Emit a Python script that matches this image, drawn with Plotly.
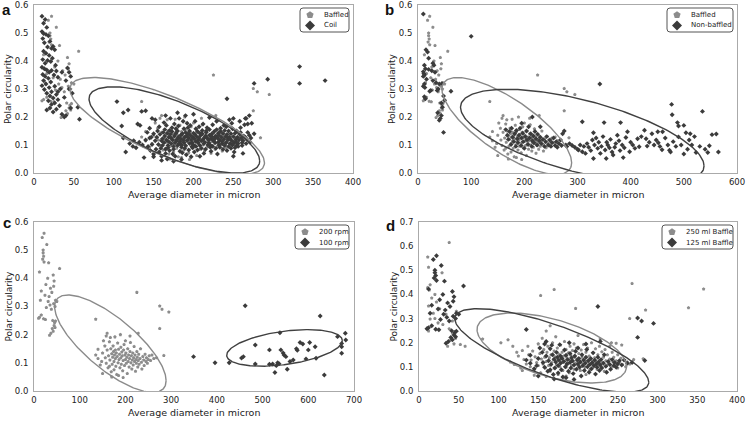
import numpy as np
import plotly.graph_objects as go

W, H = 746, 421

# ---------------- data ----------------
baffled_pts = [
    (22,0.560),(18,0.545),(28,0.520),(20,0.500),(20,0.490),(21,0.478),(19,0.468),(22,0.458),(32,0.455),
    (56,0.435),(12,0.422),(42,0.412),(30,0.400),(44,0.390),(26,0.378),(43,0.372),(36,0.365),(16,0.355),
    (39,0.350),(24,0.340),(33,0.335),(14,0.322),(47,0.322),(31,0.318),(50,0.318),(43,0.310),(46,0.300),
    (27,0.296),(38,0.290),(12,0.262),(16,0.270),(21,0.256),(25,0.254),(41,0.250),(45,0.242),(44,0.232),
    (40,0.222),(42,0.212),(37,0.205),(34,0.198),(47,0.248),(46,0.225),(10,0.258),(35,0.305),
    (225,0.350),(275,0.302),(280,0.290),(295,0.280),(275,0.222),(135,0.255),(284,0.126),(258,0.128),
    (135,0.128),(140,0.115),(145,0.092),(148,0.105),(150,0.135),(152,0.178),(155,0.160),(156,0.118),
    (158,0.098),(160,0.205),(160,0.145),(162,0.082),(163,0.125),(165,0.175),(166,0.110),(167,0.190),
    (168,0.150),(169,0.068),(170,0.132),(171,0.095),(172,0.120),(173,0.160),(174,0.140),(175,0.075),
    (175,0.105),(176,0.128),(177,0.192),(178,0.115),(178,0.145),(179,0.088),(180,0.135),(181,0.058),
    (182,0.122),(183,0.170),(184,0.100),(185,0.148),(186,0.112),(187,0.130),(188,0.082),(189,0.200),
    (190,0.118),(190,0.155),(191,0.095),(192,0.138),(193,0.125),(194,0.072),(195,0.108),(196,0.145),
    (197,0.165),(198,0.090),(199,0.128),(200,0.112),(200,0.178),(201,0.135),(202,0.098),(203,0.120),
    (204,0.062),(205,0.150),(206,0.105),(207,0.128),(208,0.085),(209,0.115),(210,0.140),(211,0.172),
    (212,0.100),(213,0.125),(214,0.078),(215,0.110),(216,0.135),(217,0.092),(218,0.118),(219,0.158),
    (220,0.105),(221,0.128),(222,0.070),(223,0.112),(224,0.098),(225,0.140),(226,0.120),(227,0.085),
    (228,0.108),(229,0.130),(230,0.095),(232,0.115),(233,0.150),(235,0.102),(236,0.078),(238,0.122),
    (240,0.110),(241,0.090),(243,0.130),(245,0.105),(246,0.118),(248,0.098),(250,0.112),(252,0.125),
    (255,0.108),(262,0.115),(268,0.118),(170,0.050),(185,0.055),(195,0.048),(150,0.062),
    (140,0.148),(158,0.195),(210,0.195),(228,0.205),(165,0.088),
]

coil_pts = [
    (10,0.560),(14,0.548),(12,0.535),(16,0.520),(10,0.505),(12,0.498),(15,0.495),(18,0.490),(11,0.480),
    (20,0.470),(13,0.465),(24,0.452),(17,0.450),(22,0.445),(26,0.440),(12,0.435),(15,0.428),(19,0.420),
    (23,0.410),(11,0.405),(17,0.402),(21,0.398),(14,0.392),(27,0.385),(10,0.378),(13,0.372),(16,0.368),
    (22,0.366),(28,0.364),(19,0.360),(11,0.352),(25,0.350),(14,0.345),(18,0.338),(30,0.342),(12,0.330),
    (21,0.325),(15,0.318),(10,0.312),(26,0.310),(19,0.305),(13,0.298),(33,0.300),(22,0.290),(16,0.285),
    (28,0.280),(20,0.275),(24,0.268),(30,0.262),(18,0.258),(26,0.250),(22,0.245),(32,0.240),(20,0.232),
    (28,0.228),(16,0.225),(24,0.218),(35,0.210),(38,0.200),(40,0.205),(42,0.375),(44,0.360),(46,0.345),
    (40,0.330),(44,0.300),(48,0.285),(38,0.270),(46,0.232),(55,0.235),(57,0.192),(35,0.360),(30,0.290),
    (104,0.255),(110,0.168),(112,0.215),(118,0.225),(115,0.075),(120,0.105),(125,0.115),(128,0.090),
    (132,0.110),(135,0.220),(140,0.222),(138,0.055),(130,0.175),(133,0.170),(142,0.145),(145,0.125),
    (146,0.080),(148,0.195),(150,0.068),(152,0.190),(242,0.265),(276,0.320),(293,0.335),(333,0.380),
    (333,0.320),(365,0.330),(270,0.205),(265,0.195),(262,0.070),(250,0.195),(268,0.175),
    (150,0.140),(152,0.115),(148,0.102),(145,0.160),(153,0.085),(147,0.128),(143,0.095),(140,0.118),
    (136,0.100),(124,0.095),(112,0.125),(150,0.058),(160,0.045),(175,0.042),(185,0.048),(165,0.205),
    (180,0.215),(200,0.210),(220,0.198),(245,0.190),(258,0.185),(250,0.060),
    (155,0.150),(156,0.102),(154,0.128),(157,0.075),(158,0.138),(159,0.088),(157,0.165),(160,0.115),
    (161,0.122),(160,0.060),(162,0.145),(161,0.098),(163,0.180),(164,0.132),(163,0.108),(165,0.085),
    (164,0.155),(166,0.118),(167,0.142),(165,0.070),(168,0.098),(166,0.170),(169,0.128),(168,0.090),
    (170,0.152),(169,0.112),(167,0.050),(171,0.138),(172,0.105),(170,0.080),(173,0.162),(171,0.195),
    (174,0.118),(173,0.148),(175,0.095),(172,0.125),(174,0.068),(176,0.132),(177,0.108),(175,0.085),
    (178,0.158),(176,0.175),(177,0.060),(179,0.120),(178,0.142),(180,0.098),(179,0.115),(181,0.128),
    (182,0.105),(180,0.150),(183,0.078),(181,0.168),(182,0.195),(184,0.135),(183,0.112),(185,0.092),
    (184,0.122),(186,0.140),(187,0.118),(185,0.100),(188,0.158),(186,0.072),(187,0.185),(189,0.128),
    (188,0.108),(190,0.145),(189,0.088),(191,0.132),(192,0.115),(190,0.098),(193,0.162),(191,0.065),
    (192,0.178),(190,0.205),(194,0.125),(193,0.140),(195,0.105),(194,0.082),(196,0.135),(197,0.118),
    (195,0.150),(198,0.095),(196,0.170),(197,0.058),(199,0.128),(198,0.108),(200,0.142),(199,0.090),
    (201,0.122),(202,0.138),(200,0.100),(203,0.158),(201,0.075),(202,0.185),(203,0.112),(204,0.130),
    (205,0.148),(203,0.095),(206,0.118),(207,0.125),(206,0.108),(208,0.142),(207,0.165),(205,0.082),
    (208,0.060),(209,0.135),(210,0.115),(208,0.098),(211,0.152),(212,0.120),(211,0.140),(213,0.105),
    (212,0.175),(210,0.088),(214,0.128),(215,0.132),(214,0.110),(216,0.150),(213,0.070),(217,0.125),
    (216,0.145),(218,0.100),(217,0.162),(215,0.085),(219,0.118),(220,0.135),(219,0.108),(221,0.092),
    (220,0.155),(222,0.122),(223,0.140),(221,0.100),(224,0.172),(222,0.078),(223,0.130),(225,0.115),
    (226,0.148),(224,0.095),(227,0.128),(228,0.132),(227,0.108),(229,0.155),(228,0.088),(226,0.120),
    (229,0.185),(230,0.125),(231,0.142),(232,0.100),(230,0.068),(233,0.118),(232,0.135),(234,0.160),
    (233,0.092),(231,0.110),(235,0.128),(236,0.105),(234,0.148),(237,0.085),(238,0.120),(237,0.140),
    (239,0.098),(238,0.170),(236,0.112),(240,0.130),(241,0.108),(239,0.152),(242,0.080),(243,0.118),
    (242,0.138),(244,0.095),(243,0.125),(241,0.165),(245,0.128),(246,0.105),(244,0.150),(247,0.088),
    (248,0.115),(247,0.140),(249,0.100),(248,0.178),(246,0.122),(250,0.130),(251,0.108),(249,0.158),
    (252,0.090),(253,0.120),(252,0.142),(254,0.098),(253,0.112),(251,0.075),(255,0.128),(256,0.105),
    (254,0.150),(257,0.118),(258,0.138),(256,0.095),(259,0.162),(260,0.125),(261,0.108),(259,0.145),
    (262,0.115),(263,0.132),(261,0.098),(264,0.172),(265,0.128),(266,0.105),(267,0.120),(268,0.145),
    (266,0.195),(270,0.135),(271,0.110),(272,0.125),(273,0.178),(276,0.140),
]

nonbaffled_pts = [
    (10,0.568),(18,0.432),(12,0.385),(10,0.362),(11,0.355),(12,0.350),(10,0.345),(14,0.372),(20,0.370),
    (28,0.392),(30,0.385),(26,0.365),(32,0.360),(12,0.318),(10,0.310),(13,0.305),(12,0.272),(14,0.265),
    (22,0.292),(24,0.295),(36,0.295),(38,0.300),(45,0.320),(40,0.318),(42,0.195),(40,0.188),(44,0.205),
    (46,0.235),(48,0.275),(50,0.260),(62,0.292),(48,0.145),(100,0.488),(34,0.322),(16,0.335),(28,0.330),
    (44,0.250),(37,0.215),(20,0.410),(15,0.440),
    (165,0.155),(168,0.135),(170,0.120),(172,0.148),(175,0.102),(176,0.160),(178,0.128),(180,0.112),
    (182,0.140),(184,0.095),(185,0.152),(187,0.122),(188,0.108),(190,0.135),(192,0.160),(194,0.098),
    (195,0.125),(197,0.142),(198,0.112),(200,0.088),(202,0.130),(204,0.150),(205,0.118),(207,0.102),
    (208,0.165),(210,0.125),(212,0.140),(214,0.095),(215,0.115),(217,0.132),(218,0.108),(220,0.148),
    (222,0.122),(224,0.100),(225,0.138),(228,0.115),(230,0.128),(232,0.105),(235,0.120),(238,0.095),
    (240,0.112),(242,0.130),(245,0.100),(248,0.118),(250,0.095),(252,0.108),(255,0.125),(258,0.098),
    (260,0.112),(262,0.092),(265,0.105),(268,0.118),(270,0.098),(272,0.140),(275,0.150),(278,0.100),
    (280,0.095),(285,0.105),(290,0.098),(295,0.092),(300,0.085),(215,0.200),(195,0.178),(230,0.165),
    (302,0.082),(305,0.100),(309,0.076),(309,0.183),(312,0.095),(315,0.070),(318,0.105),(321,0.092),
    (325,0.080),(328,0.118),(330,0.144),(330,0.052),(332,0.100),(335,0.125),(338,0.088),(340,0.110),
    (342,0.318),(343,0.070),(345,0.095),(348,0.130),(350,0.180),(352,0.082),(354,0.052),(355,0.110),
    (357,0.100),(360,0.090),(362,0.120),(365,0.075),(367,0.064),(370,0.092),(372,0.105),(375,0.135),
    (378,0.115),(380,0.080),(381,0.180),(384,0.100),(386,0.055),(388,0.090),(391,0.127),(394,0.147),
    (398,0.076),(400,0.110),(404,0.100),(408,0.088),(413,0.122),(416,0.094),(420,0.130),(426,0.153),
    (429,0.122),(431,0.096),(435,0.110),(440,0.140),(444,0.100),(448,0.118),(451,0.147),(452,0.108),
    (455,0.095),(459,0.083),(460,0.147),(465,0.125),(470,0.100),(473,0.081),(475,0.075),(477,0.245),
    (478,0.208),(480,0.112),(485,0.095),(488,0.180),(490,0.129),(495,0.100),(500,0.068),(504,0.144),
    (507,0.085),(510,0.118),(515,0.100),(520,0.130),(523,0.073),(530,0.095),(535,0.220),(540,0.085),
    (545,0.073),(548,0.097),(553,0.137),(561,0.139),(565,0.075),(490,0.168),(500,0.170),(512,0.140),
]

rpm100_pts = [
    (349,0.122),(396,0.100),(427,0.100),(454,0.117),(458,0.122),(462,0.303),(484,0.163),(484,0.096),
    (515,0.095),(515,0.146),(522,0.096),(527,0.066),(533,0.100),(536,0.097),(538,0.207),(540,0.146),
    (545,0.135),(547,0.128),(551,0.122),(554,0.077),(567,0.110),(574,0.150),(576,0.145),(582,0.172),
    (588,0.167),(595,0.114),(600,0.146),(603,0.172),(615,0.157),(617,0.116),(626,0.266),(635,0.057),
    (664,0.193),(673,0.134),(673,0.157),(673,0.169),(681,0.205),(682,0.181),(530,0.090),(560,0.105),
]

ml250_pts = [
    (38,0.615),(11,0.555),(12,0.512),(29,0.490),(14,0.440),(11,0.428),(13,0.418),(20,0.400),(16,0.385),
    (22,0.368),(12,0.352),(26,0.340),(18,0.322),(34,0.318),(14,0.298),(24,0.282),(11,0.262),(12,0.248),
    (38,0.258),(42,0.240),(40,0.212),(44,0.195),(47,0.330),(52,0.192),(58,0.185),(36,0.185),(42,0.290),
    (30,0.275),(46,0.218),(20,0.300),
    (268,0.445),(170,0.420),(153,0.395),(358,0.422),(339,0.345),(197,0.342),(285,0.335),(265,0.300),
    (248,0.198),(80,0.215),(103,0.200),(112,0.212),(118,0.185),(255,0.190),(282,0.133),(270,0.130),
    (115,0.120),(120,0.110),(125,0.145),(128,0.095),(130,0.168),(132,0.130),(135,0.112),(137,0.185),
    (138,0.150),(140,0.100),(141,0.128),(143,0.165),(145,0.088),(146,0.142),(148,0.118),(150,0.195),
    (150,0.105),(152,0.155),(153,0.075),(154,0.132),(155,0.218),(156,0.112),(157,0.172),(158,0.140),
    (159,0.095),(160,0.248),(160,0.122),(161,0.160),(162,0.185),(163,0.105),(164,0.138),(165,0.270),
    (165,0.082),(166,0.150),(167,0.118),(168,0.200),(169,0.130),(170,0.165),(170,0.095),(171,0.142),
    (172,0.225),(173,0.110),(174,0.178),(175,0.128),(175,0.068),(176,0.152),(177,0.100),(178,0.190),
    (179,0.135),(180,0.118),(180,0.160),(181,0.085),(182,0.145),(183,0.205),(184,0.125),(185,0.172),
    (185,0.098),(186,0.138),(187,0.112),(188,0.158),(189,0.075),(190,0.185),(190,0.130),(191,0.148),
    (192,0.105),(193,0.168),(194,0.122),(195,0.195),(195,0.090),(196,0.140),(197,0.115),(198,0.178),
    (199,0.132),(200,0.230),(200,0.105),(201,0.155),(202,0.125),(203,0.085),(204,0.170),(205,0.140),
    (206,0.112),(207,0.192),(208,0.130),(209,0.098),(210,0.160),(211,0.122),(212,0.178),(213,0.108),
    (214,0.145),(215,0.088),(216,0.130),(217,0.200),(218,0.115),(219,0.158),(220,0.100),(221,0.138),
    (222,0.175),(223,0.122),(224,0.090),(225,0.150),(226,0.112),(227,0.185),(228,0.128),(229,0.098),
    (230,0.162),(231,0.118),(232,0.140),(233,0.082),(234,0.172),(235,0.125),(236,0.105),(237,0.150),
    (238,0.115),(240,0.185),(240,0.132),(242,0.098),(243,0.160),(244,0.120),(245,0.140),(246,0.108),
    (248,0.125),(250,0.150),(250,0.095),(252,0.118),(254,0.135),(256,0.110),(258,0.128),(260,0.100),
    (262,0.120),(265,0.112),(145,0.065),(160,0.060),(185,0.062),(210,0.068),(130,0.085),(123,0.160),
    (228,0.215),(242,0.200),
]

# confidence ellipses: (centre x, centre y, half extent x, half extent y, correlation)
ell_baffled = (167, 0.168, 122, 0.173, -0.76)
ell_coil = (176, 0.154, 107, 0.154, -0.72)
ell_nonbaffled = (309, 0.130, 229, 0.169, -0.62)
ell_rpm100 = (548, 0.153, 126.5, 0.065, 0.40)
ell_ml250 = (167, 0.178, 94, 0.145, -0.53)

panel_letters = ["a", "b", "c", "d"]
x_title = "Average diameter in micron"
y_title = "Polar circularity"

# ---------------- styling ----------------
LIGHT = "#8c8c8c"
DARK = "#3b3b3b"
ELL_LIGHT = "#8a8a8a"
ELL_DARK = "#404040"
FONT = "DejaVu Sans"
PENT_SIZE = 3.6
DIA_SIZE = 3.8


def X(px):
    return px / W


def Y(py):
    return 1 - py / H


panels = [
    dict(key="", dom=(34, 353, 5, 173), xr=[0, 400], yr=[0, 0.6], dt=50,
         series=[(baffled_pts, "pentagon", LIGHT, PENT_SIZE), (coil_pts, "diamond", DARK, DIA_SIZE)],
         ells=[(ell_baffled, ELL_LIGHT), (ell_coil, ELL_DARK)],
         legend=(300, 8, 349, 32, [("Baffled", "pent", LIGHT), ("Coil", "dia", DARK)]),
         letter=(6, 0)),
    dict(key="2", dom=(418, 737, 5, 173), xr=[0, 600], yr=[0, 0.6], dt=100,
         series=[(baffled_pts, "pentagon", LIGHT, PENT_SIZE), (nonbaffled_pts, "diamond", DARK, DIA_SIZE)],
         ells=[(ell_baffled, ELL_LIGHT), (ell_nonbaffled, ELL_DARK)],
         legend=(667, 8, 733, 32, [("Baffled", "pent", LIGHT), ("Non-baffled", "dia", DARK)]),
         letter=(389, 0)),
    dict(key="3", dom=(34, 354, 222, 391), xr=[0, 700], yr=[0, 0.6], dt=100,
         series=[(baffled_pts, "pentagon", LIGHT, PENT_SIZE), (rpm100_pts, "diamond", DARK, DIA_SIZE)],
         ells=[(ell_baffled, ELL_LIGHT), (ell_rpm100, ELL_DARK)],
         legend=(295, 225, 349, 249, [("200 rpm", "pent", LIGHT), ("100 rpm", "dia", DARK)]),
         letter=(7, 213)),
    dict(key="4", dom=(419, 737, 222, 391), xr=[0, 400], yr=[0, 0.7], dt=50,
         series=[(ml250_pts, "pentagon", LIGHT, PENT_SIZE), (baffled_pts, "diamond", DARK, DIA_SIZE)],
         ells=[(ell_ml250, ELL_LIGHT), (ell_baffled, ELL_DARK)],
         legend=(662, 225, 733, 249, [("250 ml Baffle", "pent", LIGHT), ("125 ml Baffle", "dia", DARK)]),
         letter=(390, 216)),
]

fig = go.Figure()
shapes = []
annotations = []
t = np.linspace(0, 2 * np.pi, 240)

for idx, p in enumerate(panels):
    k = p["key"]
    xa, ya = "x" + k, "y" + k
    for pts, sym, col, sz in p["series"]:
        xs = [q[0] for q in pts]
        ys = [q[1] for q in pts]
        fig.add_trace(go.Scatter(x=xs, y=ys, mode="markers", xaxis=xa, yaxis=ya,
                                 marker=dict(symbol=sym, color=col, size=sz, line=dict(width=0)),
                                 showlegend=False, hoverinfo="skip"))
    for (cx, cy, hx, hy, rho), col in p["ells"]:
        ex = cx + hx * np.cos(t)
        ey = cy + hy * (rho * np.cos(t) + np.sqrt(1 - rho ** 2) * np.sin(t))
        fig.add_trace(go.Scatter(x=ex, y=ey, mode="lines", xaxis=xa, yaxis=ya,
                                 line=dict(color=col, width=1.4), showlegend=False, hoverinfo="skip"))
    x0, x1, y0, y1 = p["dom"]
    axis_common = dict(showgrid=False, zeroline=False, showline=True, mirror=True,
                       linecolor="#aaaaaa", linewidth=1, ticks="", automargin=False,
                       ticklabeloverflow="allow",
                       tickfont=dict(family=FONT, size=8.5, color="#222222"))
    fig.update_layout(**{
        "xaxis" + k: dict(domain=[X(x0), X(x1)], range=p["xr"], anchor=ya, tickmode="linear",
                          tick0=0, dtick=p["dt"], ticklabelstandoff=1, **axis_common),
        "yaxis" + k: dict(domain=[Y(y1), Y(y0)], range=p["yr"], anchor=xa, tickmode="linear",
                          tick0=0, dtick=0.1, tickformat=".1f", ticklabelstandoff=3, **axis_common),
    })
    # axis titles
    annotations.append(dict(x=X((x0 + x1) / 2), y=Y(y1 + 21), xref="paper", yref="paper",
                            text=x_title, showarrow=False, xanchor="center", yanchor="middle",
                            font=dict(family=FONT, size=9.5, color="#222222")))
    annotations.append(dict(x=X(x0 - 26), y=Y((y0 + y1) / 2), xref="paper", yref="paper",
                            text=y_title, showarrow=False, textangle=-90, xanchor="center",
                            yanchor="middle", font=dict(family=FONT, size=9, color="#222222")))
    # panel letter
    lx, ly = p["letter"]
    annotations.append(dict(x=X(lx), y=Y(ly), xref="paper", yref="paper",
                            text="<b>%s</b>" % panel_letters[idx], showarrow=False,
                            xanchor="center", yanchor="top", borderpad=0,
                            font=dict(family="Liberation Sans", size=15, color="#111111")))
    # legend box (rounded rectangle)
    bx0, by0, bx1, by1, entries = p["legend"]
    r = 3
    path = (f"M {X(bx0 + r)},{Y(by0)} L {X(bx1 - r)},{Y(by0)} Q {X(bx1)},{Y(by0)} {X(bx1)},{Y(by0 + r)} "
            f"L {X(bx1)},{Y(by1 - r)} Q {X(bx1)},{Y(by1)} {X(bx1 - r)},{Y(by1)} "
            f"L {X(bx0 + r)},{Y(by1)} Q {X(bx0)},{Y(by1)} {X(bx0)},{Y(by1 - r)} "
            f"L {X(bx0)},{Y(by0 + r)} Q {X(bx0)},{Y(by0)} {X(bx0 + r)},{Y(by0)} Z")
    shapes.append(dict(type="path", xref="paper", yref="paper", path=path,
                       line=dict(color="#555555", width=1), fillcolor="white", layer="above"))
    for i, (lab, kind, col) in enumerate(entries):
        cy = by0 + 6.5 + 11 * i
        cx = bx0 + 10
        if kind == "pent":
            rr = 3.8
            ang = np.deg2rad(-90 + 72 * np.arange(5))
            vx = cx + rr * np.cos(ang)
            vy = cy + 0.5 + rr * np.sin(ang)
        else:
            rr = 5
            vx = np.array([cx, cx + rr, cx, cx - rr])
            vy = np.array([cy - rr, cy, cy + rr, cy])
        gp = "M " + " L ".join(f"{X(a)},{Y(b)}" for a, b in zip(vx, vy)) + " Z"
        shapes.append(dict(type="path", xref="paper", yref="paper", path=gp,
                           line=dict(width=0), fillcolor=col, layer="above"))
        annotations.append(dict(x=X(bx0 + 22), y=Y(cy), xref="paper", yref="paper", text=lab,
                                showarrow=False, xanchor="left", yanchor="middle",
                                font=dict(family=FONT, size=7, color="#222222")))

fig.update_layout(width=W, height=H, margin=dict(l=0, r=0, t=0, b=0, pad=0, autoexpand=False),
                  paper_bgcolor="white", plot_bgcolor="white", showlegend=False,
                  shapes=shapes, annotations=annotations)

# the page's default 8px body margin would push the fixed-size figure off the window
fig.write_html("out.html", config={"displayModeBar": False},
               post_script="document.body.style.margin='0px';document.body.style.overflow='hidden';")
